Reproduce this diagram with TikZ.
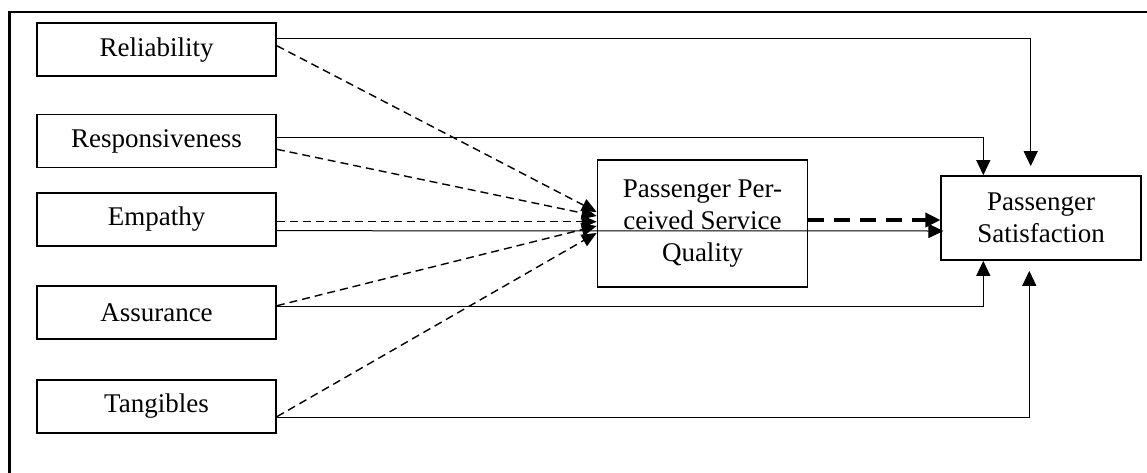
\documentclass[tikz,border=0pt]{standalone}
\usepackage{fontspec}
\setmainfont{Liberation Serif}
\usetikzlibrary{arrows.meta,calc}
\begin{document}
\begin{tikzpicture}[x=1pt,y=-1pt,
  box/.style={draw,line width=1.7pt,inner sep=0pt,font=\fontsize{27}{32}\selectfont,align=center},
  leftbox/.style={box,minimum width=239pt,minimum height=53pt},
  solidc/.style={line width=1pt,-{Triangle[length=15pt,width=14pt]}},
  dashc/.style={line width=1.4pt,dash pattern=on 8pt off 5pt,-{Triangle[length=15pt,width=13pt]}},
  thickdash/.style={line width=3.5pt,dash pattern=on 16pt off 10pt,-{Triangle[length=15pt,width=14pt]}},
  frame/.style={line width=2.4pt}]
\useasboundingbox (0,0) rectangle (1147,472);
\draw[frame] (1160,12) -- (9.5,12) -- (9.5,490);

\node[leftbox] (rel)  at (156.5,49.75) {Reliability};
\node[leftbox] (resp) at (156.5,141) {Responsiveness};
\node[leftbox] (emp)  at (156.5,219.5) {Empathy};
\node[leftbox] (ass)  at (156.5,312.3) {Assurance};
\node[leftbox] (tang) at (156.5,406.2) {Tangibles};
\node[box,minimum width=210pt,minimum height=126.7pt] (ppsq) at (702.5,223.3) {Passenger Per-\\ceived Service\\Quality};
\node[box,minimum width=199.4pt,minimum height=84pt] (ps) at (1041,218) {Passenger\\Satisfaction};

% solid direct paths
\draw[solidc] ($(rel.east)+(0,-11)$) -| ($(ps.north)+(-10.3,-9)$);
\draw[solidc] ($(resp.east)+(0,-3.7)$) -| ($(ps.north)+(-57.7,0)$);
\draw[solidc] ($(emp.east)+(0,11.2)$) -- ($(ps.west)+(3,13)$);
\draw[solidc] ($(ass.east)+(0,-6.3)$) -| ($(ps.south)+(-57.7,0)$);
\draw[solidc] ($(tang.east)+(0,11.5)$) -| ($(ps.south)+(-11.7,10)$);

% dashed paths to perceived quality
\draw[dashc] ($(rel.east)+(0,-4)$) -- ($(ppsq.west)+(0,-11.3)$);
\draw[dashc] ($(resp.east)+(0,8.3)$) -- ($(ppsq.west)+(0,-7.3)$);
\draw[dashc] ($(emp.east)+(0,2.2)$) -- ($(ppsq.west)+(0,-1.6)$);
\draw[dashc] ($(ass.east)+(0,-6.6)$) -- ($(ppsq.west)+(0,2.7)$);
\draw[dashc] ($(tang.east)+(0,10.5)$) -- ($(ppsq.west)+(0,9.7)$);

% thick dashed mediation path
\draw[thickdash] ($(ppsq.east)+(0,-3.3)$) -- ($(ps.west)+(0,2)$);
\end{tikzpicture}
\end{document}
